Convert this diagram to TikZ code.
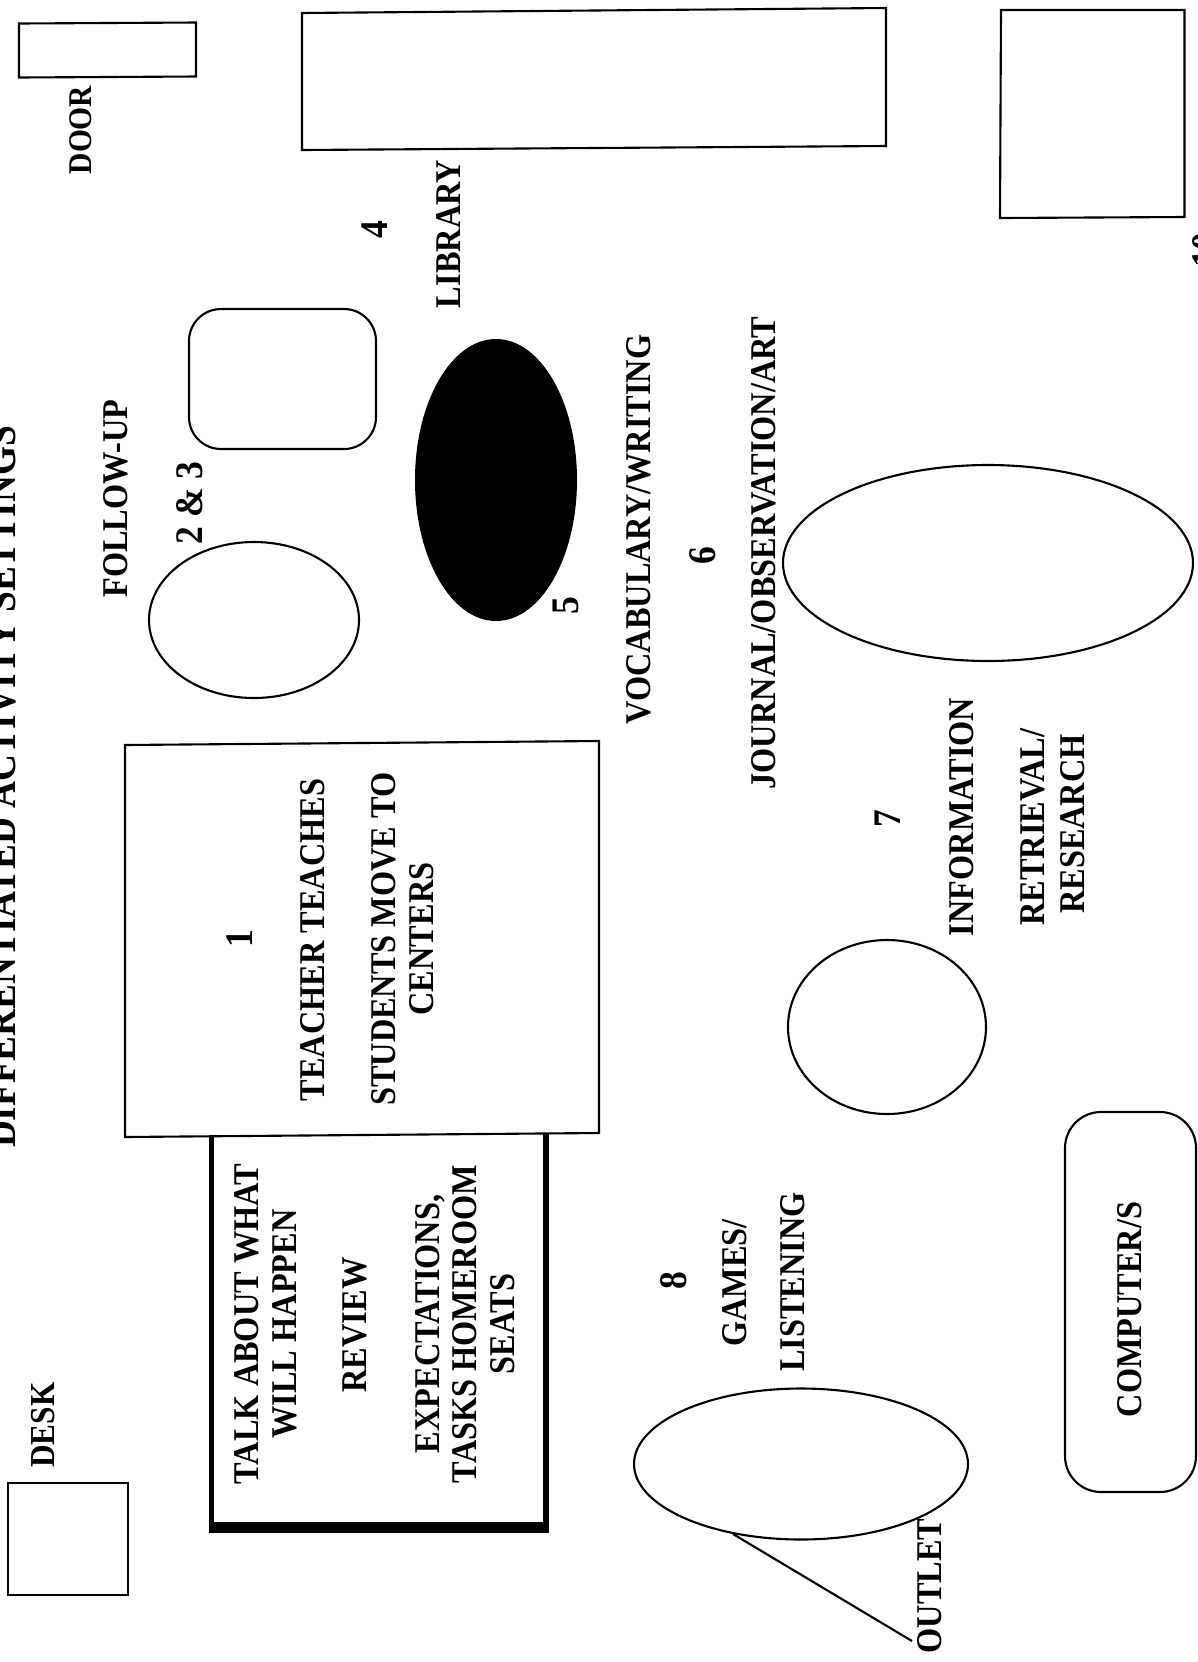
\documentclass[tikz,border=0pt]{standalone}
\usepackage{fontspec}
\setmainfont{Liberation Serif}
\usepackage{xcolor}
\newcommand{\mf}{\fontsize{9.2}{9.6}\selectfont\bfseries}
\newcommand{\mfn}{\fontsize{10.1}{11}\selectfont\bfseries}
\newcommand{\mft}{\fontsize{10.6}{11}\selectfont\bfseries}
\tikzset{
  outline/.style={black, line width=0.6pt},
  lbl/.style={rotate=90, yscale=1.12, transform shape, align=center, font=\mf},
  numlbl/.style={rotate=90, yscale=1.1, transform shape, font=\mfn},
}
\begin{document}
\begin{tikzpicture}[x=1cm, y=1cm, every node/.style={inner sep=0pt, outer sep=0pt}]
\useasboundingbox (0,0) rectangle (11.97,-16.62);
\clip (0,0) rectangle (11.97,-16.62);
% ---- top row: door, library shelf, corner table
\draw[outline] (0.19,-0.235) -- (1.96,-0.225) -- (1.96,-0.765) -- (0.19,-0.775) -- cycle;
\node[lbl, font=\fontsize{8.4}{9}\selectfont\bfseries] (door) at (0.805,-1.30) {DOOR};
\draw[outline] (3.02,-0.13) -- (8.86,-0.08) -- (8.86,-1.46) -- (3.02,-1.50) -- cycle;
\draw[outline] (10.01,-0.10) -- (11.845,-0.10) -- (11.845,-2.17) -- (10.00,-2.18) -- cycle;
\node[numlbl, anchor=north] (ten) at (11.93,-2.50) {10};
% ---- title, cut off by the page edge
\node[rotate=90, yscale=1.15, transform shape, anchor=base, font=\mft] (title) at (0.15,-7.87) {DIFFERENTIATED ACTIVITY SETTINGS};
% ---- follow-up tables
\draw[outline, rounded corners=0.32cm] (1.89,-3.09) rectangle (3.76,-4.49);
\draw[outline] (2.54,-6.20) ellipse (1.05 and 0.78);
\node[lbl] (followup) at (1.16,-4.985) {FOLLOW-UP};
\node[numlbl] (twothree) at (1.895,-5.03) {2 \& 3};
% ---- library and vocabulary
\node[numlbl] (four) at (3.745,-2.295) {4};
\node[lbl] (library) at (4.49,-2.34) {LIBRARY};
\fill[black] (4.96,-4.80) ellipse (0.81 and 1.41);
\node[numlbl] (five) at (5.66,-6.06) {5};
\node[lbl] (vocab) at (6.39,-5.295) {VOCABULARY/WRITING};
\node[numlbl] (six) at (7.03,-5.555) {6};
\node[lbl] (journal) at (7.635,-5.53) {JOURNAL/OBSERVATION/ART};
\draw[outline] (9.88,-5.63) ellipse (2.05 and 0.98);
% ---- rug with talk block, teacher block on top of it
\fill[black] (2.085,-11.30) rectangle (5.49,-15.33);
\fill[white] (2.14,-11.30) rectangle (5.43,-15.22);
\draw[outline, fill=white] (1.25,-7.45) -- (5.99,-7.41) -- (5.99,-11.33) -- (1.25,-11.37) -- cycle;
\node[numlbl] (one) at (2.395,-9.39) {1};
\node[lbl] (teacher) at (3.125,-9.40) {TEACHER TEACHES};
\node[lbl] (students) at (4.03,-9.39) {STUDENTS MOVE TO\\CENTERS};
\node[lbl] (talk) at (2.655,-13.24) {TALK ABOUT WHAT\\WILL HAPPEN};
\node[lbl] (review) at (3.55,-13.25) {REVIEW};
\node[lbl] (expect) at (4.65,-13.24) {EXPECTATIONS,\\TASKS HOMEROOM\\SEATS};
% ---- desk
\draw[outline] (0.08,-14.83) rectangle (1.28,-15.95);
\node[lbl, font=\fontsize{8.9}{9}\selectfont\bfseries] (desk) at (0.43,-14.25) {DESK};
% ---- information retrieval
\node[numlbl] (seven) at (8.875,-8.19) {7};
\node[lbl] (info) at (9.62,-8.17) {INFORMATION};
\node[lbl] (retrieval) at (10.33,-8.27) {RETRIEVAL/};
\node[lbl] (research) at (10.73,-8.24) {RESEARCH};
\draw[outline] (8.87,-10.27) ellipse (0.99 and 0.87);
% ---- computers
\draw[outline, rounded corners=0.36cm] (10.65,-11.12) rectangle (11.96,-14.92);
\node[lbl] (computer) at (11.295,-13.095) {COMPUTER/S};
% ---- games and outlet
\node[numlbl] (eight) at (6.735,-12.81) {8};
\node[lbl] (games) at (7.35,-12.83) {GAMES/};
\node[lbl] (listening) at (7.925,-12.82) {LISTENING};
\draw[outline] (8.01,-14.64) ellipse (1.67 and 0.755);
\node[lbl] (outlet) at (9.30,-15.86) {OUTLET};
\coordinate (linestart) at (7.33,-15.34);
\coordinate (lineend) at (9.12,-16.41);
\draw[outline] (linestart) -- (lineend);
\end{tikzpicture}
\end{document}
